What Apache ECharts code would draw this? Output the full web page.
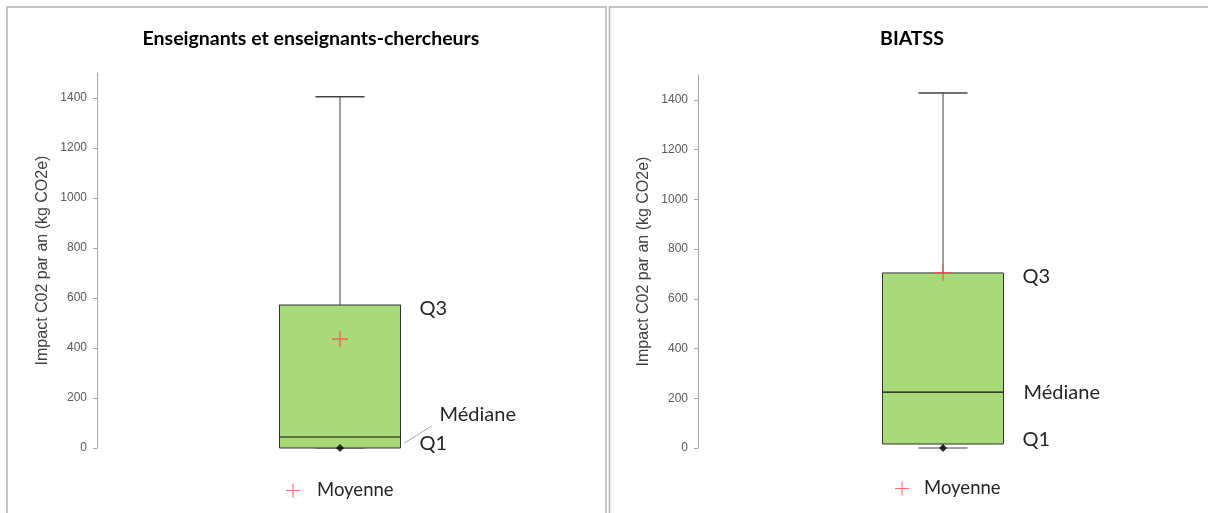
<!DOCTYPE html>
<html><head><meta charset="utf-8">
<script src="https://cdn.jsdelivr.net/npm/echarts@6/dist/echarts.min.js"></script>
<style>html,body{margin:0;padding:0;background:#fff}#c{width:1208px;height:513px}</style>
</head><body><div id="c"></div>
<script>
// ---- data ----
const panelTitles = ['Enseignants et enseignants-chercheurs', 'BIATSS'];
const yAxisName = 'Impact C02 par an (kg CO2e)';
const yTicks = [0, 200, 400, 600, 800, 1000, 1200, 1400];
const yMax = 1500;
// [min, Q1, median, Q3, max]
const statsEnseignants = [0, 0, 44, 572, 1405];
const statsBiatss = [0, 16, 225, 704, 1428];
const meanEnseignants = 436;
const meanBiatss = 705;
const statLabels = ['Q3', 'Médiane', 'Q1'];
const legendName = 'Moyenne';

const crossPath = 'path://M0,4.6H10V5.4H0Z M4.6,0H5.4V10H4.6Z';
const labelFont = 'Lato, "Open Sans", sans-serif';

function makeRender(panel) {
  return function (params, api) {
    const x = api.value(0);
    const mn = api.coord([x, api.value(1)]);
    const q1 = api.coord([x, api.value(2)]);
    const md = api.coord([x, api.value(3)]);
    const q3 = api.coord([x, api.value(4)]);
    const mx = api.coord([x, api.value(5)]);
    const bw = 121, cw = 49;
    const cx = q1[0];
    const left = cx - bw / 2, right = cx + bw / 2;
    const line = (x1, y1, x2, y2, c, w) => ({ type: 'line', shape: { x1, y1, x2, y2 }, style: { stroke: c, lineWidth: w } });
    const wc = '#404040';
    const children = [
      line(cx, q3[1], cx, mx[1], wc, 1),
      line(cx - cw / 2, mx[1], cx + cw / 2, mx[1], wc, 1.5),
      line(cx, q1[1], cx, mn[1], wc, 1),
      line(cx - cw / 2, mn[1], cx + cw / 2, mn[1], wc, 1.2),
      { type: 'rect', shape: { x: left, y: q3[1], width: bw, height: q1[1] - q3[1] },
        style: { fill: '#a9d978', stroke: '#333', lineWidth: 1 } },
      line(left, md[1], right, md[1], '#111', 1.2)
    ];
    const txt = (t, tx, ty) => ({ type: 'text', x: tx, y: ty,
      style: { text: t, fill: '#262626', font: '20px ' + labelFont, textVerticalAlign: 'middle', textAlign: 'left' } });
    children.push(txt(statLabels[0], right + 19, q3[1] + 4));
    if (panel === 0) {
      children.push(txt(statLabels[1], right + 39, md[1] - 22));
      children.push(line(right + 4, md[1] + 6, right + 31, md[1] - 11, '#a6a6a6', 1));
    } else {
      children.push(txt(statLabels[1], right + 20, md[1]));
    }
    children.push(txt(statLabels[2], right + 19, q1[1] - 4));
    return { type: 'group', children };
  };
}

function yAxisCfg(gi) {
  return {
    type: 'value', gridIndex: gi, min: 0, max: yMax, interval: 100,
    name: yAxisName, nameLocation: 'middle', nameGap: 46,
    nameTextStyle: { fontFamily: 'Liberation Sans, Arial, sans-serif', fontSize: 16, color: '#404040' },
    axisLine: { show: true, lineStyle: { color: '#a6a6a6', width: 1 } },
    axisTick: { show: true, length: 4, customValues: yTicks, lineStyle: { color: '#a6a6a6' } },
    axisLabel: { customValues: yTicks, formatter: v => String(v),
      fontFamily: 'Liberation Sans, Arial, sans-serif', fontSize: 12, color: '#595959', margin: 10 },
    splitLine: { show: false }
  };
}
function xAxisCfg(gi) {
  return { type: 'category', gridIndex: gi, data: [panelTitles[gi]], show: false };
}

const chart = echarts.init(document.getElementById('c'), null, { renderer: 'canvas' });
chart.setOption({
  animation: false,
  backgroundColor: '#fff',
  title: [
    { text: panelTitles[0], left: 306, top: 24, textAlign: 'center',
      textStyle: { fontFamily: labelFont, fontWeight: 'bold', fontSize: 19.5, color: '#000' } },
    { text: panelTitles[1], left: 907, top: 24, textAlign: 'center',
      textStyle: { fontFamily: labelFont, fontWeight: 'bold', fontSize: 19.5, color: '#000' } }
  ],
  legend: [
    { left: 281, top: 476, itemWidth: 14, itemHeight: 14, data: [{ name: legendName, icon: crossPath }],
      textStyle: { fontFamily: labelFont, fontSize: 18.5, color: '#262626', padding: [0, 0, 0, 12] }, selectedMode: false },
    { left: 890, top: 474, itemWidth: 14, itemHeight: 14, data: [{ name: legendName, icon: crossPath }],
      textStyle: { fontFamily: labelFont, fontSize: 18.5, color: '#262626', padding: [0, 0, 0, 10] }, selectedMode: false }
  ],
  grid: [
    { left: 97, top: 73, width: 486, height: 375 },
    { left: 698, top: 75, width: 490, height: 373 }
  ],
  xAxis: [xAxisCfg(0), xAxisCfg(1)],
  yAxis: [yAxisCfg(0), yAxisCfg(1)],
  graphic: [
    { type: 'rect', shape: { x: 7, y: 7, width: 599, height: 520 }, style: { fill: 'none', stroke: '#b3b3b3', lineWidth: 1.5 }, silent: true },
    { type: 'rect', shape: { x: 609.5, y: 7, width: 620, height: 520 }, style: { fill: 'none', stroke: '#b3b3b3', lineWidth: 1.5 }, silent: true }
  ],
  series: [
    { type: 'custom', xAxisIndex: 0, yAxisIndex: 0, renderItem: makeRender(0),
      encode: { x: 0, y: [1, 2, 3, 4, 5] }, data: [[0].concat(statsEnseignants)], z: 2 },
    { type: 'custom', xAxisIndex: 1, yAxisIndex: 1, renderItem: makeRender(1),
      encode: { x: 0, y: [1, 2, 3, 4, 5] }, data: [[0].concat(statsBiatss)], z: 2 },
    { type: 'scatter', name: 'min0', xAxisIndex: 0, yAxisIndex: 0, symbol: 'diamond', symbolSize: 8,
      itemStyle: { color: '#000' }, data: [[0, statsEnseignants[0]]], z: 4 },
    { type: 'scatter', name: 'min1', xAxisIndex: 1, yAxisIndex: 1, symbol: 'diamond', symbolSize: 8,
      itemStyle: { color: '#000' }, data: [[0, statsBiatss[0]]], z: 4 },
    { type: 'scatter', name: legendName, xAxisIndex: 0, yAxisIndex: 0, symbol: crossPath, symbolSize: 16,
      itemStyle: { color: '#ff4a4a' }, data: [[0, meanEnseignants]], z: 5 },
    { type: 'scatter', name: legendName, xAxisIndex: 1, yAxisIndex: 1, symbol: crossPath, symbolSize: 16,
      itemStyle: { color: '#ff4a4a' }, data: [[0, meanBiatss]], z: 5 }
  ]
});
</script></body></html>
